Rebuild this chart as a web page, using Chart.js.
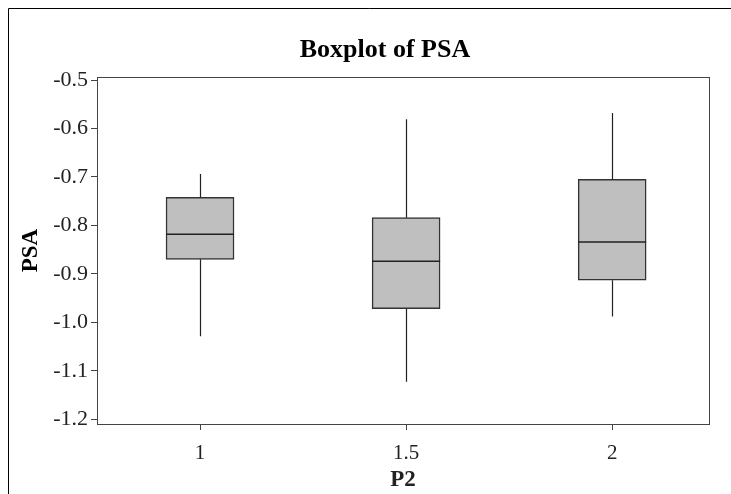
<!DOCTYPE html>
<html>
<head>
<meta charset="utf-8">
<script src="https://cdn.jsdelivr.net/npm/chart.js@4.4.0/dist/chart.umd.min.js"></script>
<style>
  html, body { margin: 0; padding: 0; background: #fff; }
  #wrap { width: 731px; height: 494px; position: relative; }
</style>
</head>
<body>
<div id="wrap"><canvas id="boxChart" width="731" height="494"></canvas></div>
<script>
// data
const groups = [1, 1.5, 2];
const whiskerLow = [-1.029, -1.123, -0.988];
const q1 = [-0.870, -0.972, -0.913];
const medians = [-0.818, -0.874, -0.834];
const q3 = [-0.742, -0.784, -0.705];
const whiskerHigh = [-0.694, -0.581, -0.568];
const xTicks = [1, 1.5, 2];
const yTicks = [-1.2, -1.1, -1.0, -0.9, -0.8, -0.7, -0.6, -0.5];

const serif = "'Liberation Serif', 'Times New Roman', serif";
const boxData = groups.map((g, i) => ({ x: g, y: [q1[i], q3[i]] }));

// whiskers, medians and frames drawn with the chart's own scales
const boxExtras = {
    id: "boxExtras",
    afterLayout(chart) {
        // title sits a little left of the plot centre in the original
        chart.titleBlock.left = 61;
    },
    beforeDraw(chart) {
        const ctx = chart.ctx;
        ctx.save();
        ctx.strokeStyle = "#000";
        ctx.lineWidth = 1;
        ctx.beginPath();
        ctx.moveTo(8.5, 494);
        ctx.lineTo(8.5, 8.5);
        ctx.lineTo(731, 8.5);
        ctx.stroke();
        ctx.restore();
    },
    afterDatasetsDraw(chart) {
        const ctx = chart.ctx;
        const y = chart.scales.y;
        const meta = chart.getDatasetMeta(0);
        ctx.save();
        meta.data.forEach((bar, i) => {
            const x = Math.round(bar.x) + 0.5;
            const half = bar.width / 2;
            ctx.strokeStyle = "#222";
            ctx.lineWidth = 1.2;
            ctx.beginPath();
            ctx.moveTo(x, y.getPixelForValue(q3[i]));
            ctx.lineTo(x, y.getPixelForValue(whiskerHigh[i]));
            ctx.moveTo(x, y.getPixelForValue(q1[i]));
            ctx.lineTo(x, y.getPixelForValue(whiskerLow[i]));
            ctx.stroke();
            ctx.lineWidth = 1.5;
            ctx.beginPath();
            const my = y.getPixelForValue(medians[i]);
            ctx.moveTo(bar.x - half, my);
            ctx.lineTo(bar.x + half, my);
            ctx.stroke();
        });
        const a = chart.chartArea;
        ctx.strokeStyle = "#444";
        ctx.lineWidth = 1;
        ctx.strokeRect(Math.round(a.left) + 0.5, Math.round(a.top) + 0.5,
            Math.round(a.right - a.left), Math.round(a.bottom - a.top));
        ctx.restore();
    }
};

const ctx = document.getElementById("boxChart").getContext("2d");
new Chart(ctx, {
    type: "bar",
    data: {
        datasets: [{
            label: "PSA",
            data: boxData,
            backgroundColor: "#bfbfbf",
            borderColor: "#333",
            borderWidth: 1.5,
            borderSkipped: false,
            barThickness: 68
        }]
    },
    options: {
        responsive: false,
        animation: false,
        layout: { padding: { left: 0, right: 22, top: 0, bottom: 0 } },
        plugins: {
            legend: { display: false },
            tooltip: { enabled: false },
            title: {
                display: true,
                text: "Boxplot of PSA",
                color: "#000",
                font: { family: serif, size: 26, weight: "bold" },
                padding: { top: 35, bottom: 11 }
            }
        },
        scales: {
            x: {
                type: "linear",
                min: 0.75,
                max: 2.235,
                offset: false,
                afterBuildTicks(scale) { scale.ticks = xTicks.map(v => ({ value: v })); },
                afterFit(scale) { scale.height = 70; },
                grid: { drawOnChartArea: false, offset: false, tickLength: 6, color: "#444" },
                border: { display: false },
                ticks: {
                    color: "#222",
                    padding: 11,
                    maxRotation: 0,
                    font: { family: serif, size: 21 },
                    callback: v => String(v)
                },
                title: {
                    display: true,
                    text: "P2",
                    color: "#222",
                    font: { family: serif, size: 23, weight: "bold" },
                    padding: { top: 0, bottom: 0 }
                }
            },
            y: {
                min: -1.21,
                max: -0.494,
                afterBuildTicks(scale) { scale.ticks = yTicks.map(v => ({ value: v })); },
                afterFit(scale) { scale.width = 97; },
                grid: { drawOnChartArea: false, tickLength: 6, color: "#444" },
                border: { display: false },
                ticks: {
                    color: "#222",
                    padding: 3,
                    font: { family: serif, size: 22 },
                    callback: v => v.toFixed(1)
                },
                title: {
                    display: true,
                    text: "PSA",
                    color: "#000",
                    font: { family: serif, size: 23, weight: "bold" },
                    padding: { top: 17, bottom: 0 }
                }
            }
        }
    },
    plugins: [boxExtras]
});
</script>
</body>
</html>
